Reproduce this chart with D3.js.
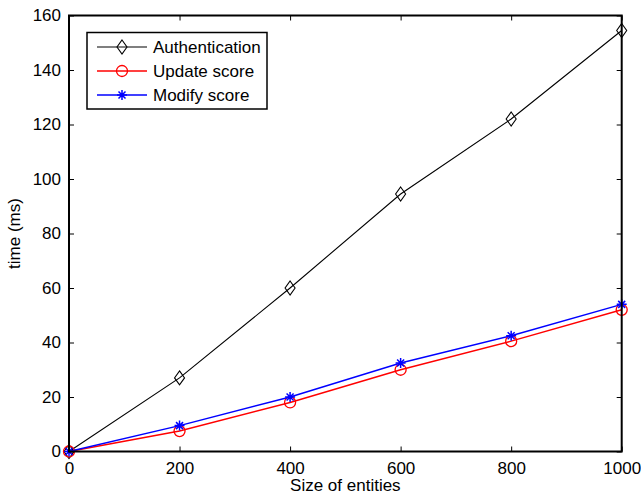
<!DOCTYPE html>
<html>
<head>
<meta charset="utf-8">
<script src="https://cdn.jsdelivr.net/npm/d3@7"></script>
<style>
  body { margin: 0; background: #fff; }
  text { font-family: "Liberation Sans", Arial, sans-serif; fill: #000; }
</style>
</head>
<body>
<svg id="chart" width="641" height="497"></svg>
<script>
// data
const sizes = [0, 200, 400, 600, 800, 1000];
const authentication = [0, 27, 60, 94.5, 122, 154.5];
const updateScore = [0, 7.5, 18, 30, 40.5, 52];
const modifyScore = [0, 9.5, 20, 32.5, 42.5, 54];
const xTicks = [0, 200, 400, 600, 800, 1000];
const yTicks = [0, 20, 40, 60, 80, 100, 120, 140, 160];

const series = [
    { name: "Authentication", values: authentication, color: "#000", marker: "diamond", width: 1.1 },
    { name: "Update score", values: updateScore, color: "#ff0000", marker: "circle", width: 1.5 },
    { name: "Modify score", values: modifyScore, color: "#0000ff", marker: "star", width: 1.5 }
];

const margin = { left: 69, top: 15.5, right: 19.3, bottom: 45.5 };
const svg = d3.select("#chart");
const W = +svg.attr("width"), H = +svg.attr("height");
const w = W - margin.left - margin.right, h = H - margin.top - margin.bottom;

const x = d3.scaleLinear().domain([0, 1000]).range([0, w]);
const y = d3.scaleLinear().domain([0, 160]).range([h, 0]);

const g = svg.append("g").attr("transform", `translate(${margin.left},${margin.top})`);

// marker drawing
function drawMarker(sel, type, color) {
    if (type === "diamond") {
        sel.append("path")
            .attr("d", "M0,-7L5,0L0,7L-5,0Z")
            .attr("fill", "none").attr("stroke", color).attr("stroke-width", 1.1);
    } else if (type === "circle") {
        sel.append("circle").attr("r", 5.5)
            .attr("fill", "none").attr("stroke", color).attr("stroke-width", 1.3);
    } else {
        let s = 5;
        sel.append("path")
            .attr("d", `M0,${-s}L0,${s}M${-s},0L${s},0M${-s*0.7},${-s*0.7}L${s*0.7},${s*0.7}M${-s*0.7},${s*0.7}L${s*0.7},${-s*0.7}`)
            .attr("stroke", color).attr("stroke-width", 1.5);
    }
}

// lines
const line = d3.line().x((d, i) => x(sizes[i])).y(d => y(d));
series.forEach(s => {
    g.append("path")
        .datum(s.values)
        .attr("d", line)
        .attr("fill", "none")
        .attr("stroke", s.color)
        .attr("stroke-width", s.width);
    g.selectAll(null)
        .data(s.values)
        .enter()
        .append("g")
        .attr("transform", (d, i) => `translate(${x(sizes[i])},${y(d)})`)
        .each(function() { drawMarker(d3.select(this), s.marker, s.color); });
});

// axes, ticks inward on all four sides
const fs = "17px";
const xAxis = g.append("g").attr("transform", `translate(0,${h})`)
    .call(d3.axisBottom(x).tickValues(xTicks).tickFormat(d3.format("d")).tickSizeInner(-5).tickSizeOuter(0).tickPadding(10));
const yAxis = g.append("g")
    .call(d3.axisLeft(y).tickValues(yTicks).tickFormat(d3.format("d")).tickSizeInner(-5).tickSizeOuter(0).tickPadding(8));
const xTop = g.append("g")
    .call(d3.axisTop(x).tickValues(xTicks).tickSizeInner(-5).tickSizeOuter(0).tickFormat(""));
const yRight = g.append("g").attr("transform", `translate(${w},0)`)
    .call(d3.axisRight(y).tickValues(yTicks).tickSizeInner(-5).tickSizeOuter(0).tickFormat(""));

[xAxis, yAxis, xTop, yRight].forEach(a => {
    a.select(".domain").remove();
    a.selectAll(".tick line").attr("stroke", "#000").attr("stroke-width", 1);
    a.selectAll("text").style("font-size", fs).style("font-family", "Liberation Sans, Arial, sans-serif").attr("fill", "#000");
});

g.append("rect")
    .attr("width", w).attr("height", h)
    .attr("fill", "none").attr("stroke", "#000").attr("stroke-width", 2);

// axis titles
svg.append("text")
    .attr("x", margin.left + w / 2).attr("y", H - 6)
    .attr("text-anchor", "middle").style("font-size", fs)
    .text("Size of entities");
svg.append("text")
    .attr("transform", `translate(20,${margin.top + h / 2}) rotate(-90)`)
    .attr("text-anchor", "middle").style("font-size", fs)
    .text("time (ms)");

// legend
const leg = svg.append("g").attr("transform", "translate(87,32.5)");
leg.append("rect").attr("width", 180).attr("height", 76.5)
    .attr("fill", "#fff").attr("stroke", "#000").attr("stroke-width", 1.5);
series.forEach((s, i) => {
    const row = leg.append("g").attr("transform", `translate(0,${14.5 + i * 24})`);
    row.append("line").attr("x1", 10).attr("x2", 60)
        .attr("stroke", s.color).attr("stroke-width", s.width);
    drawMarker(row.append("g").attr("transform", "translate(35,0)"), s.marker, s.color);
    row.append("text").attr("x", 66).attr("y", 6).style("font-size", fs).text(s.name);
});
</script>
</body>
</html>
